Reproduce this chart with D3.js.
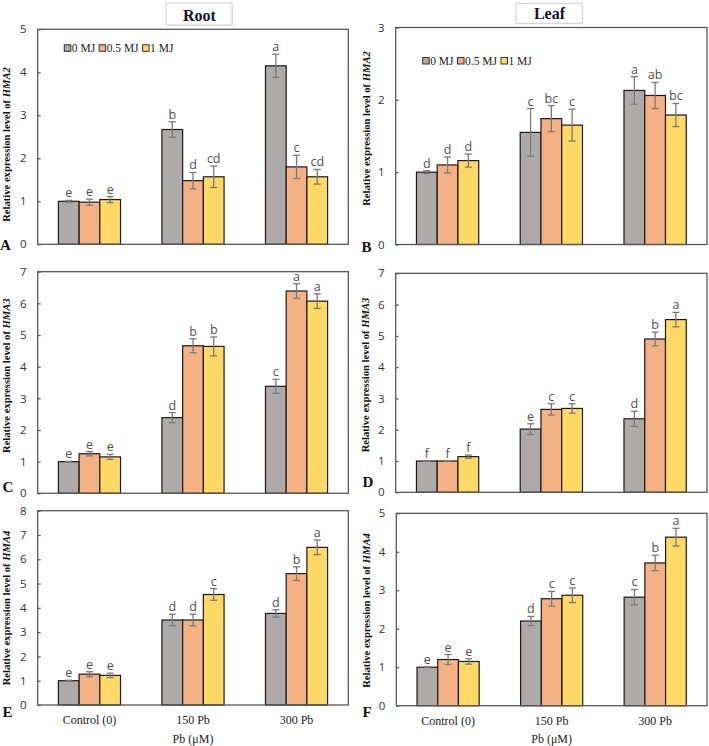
<!DOCTYPE html>
<html><head><meta charset="utf-8">
<script src="https://cdn.jsdelivr.net/npm/d3@7"></script>
<style>
html,body{margin:0;padding:0;background:#fff;}
svg{display:block;}
</style></head>
<body>
<svg id="chart" width="709" height="746"></svg>
<script>
// ---------- data ----------
const groups = ["Control (0)", "150 Pb", "300 Pb"];
const seriesNames = ["0 MJ", "0.5 MJ", "1 MJ"];

// rows = groups, columns = series (0 MJ, 0.5 MJ, 1 MJ)
const rootHMA2    = [[1.00, 0.98, 1.04], [2.67, 1.48, 1.57], [4.15, 1.80, 1.57]];
const rootHMA2Err = [[0.02, 0.07, 0.07], [0.18, 0.19, 0.25], [0.27, 0.27, 0.17]];
const rootHMA2Sig = [["e","e","e"], ["b","d","cd"], ["a","c","cd"]];

const leafHMA2    = [[1.00, 1.10, 1.16], [1.55, 1.74, 1.65], [2.13, 2.06, 1.79]];
const leafHMA2Err = [[0.02, 0.11, 0.09], [0.33, 0.18, 0.22], [0.19, 0.18, 0.16]];
const leafHMA2Sig = [["d","d","d"], ["c","bc","c"], ["a","ab","bc"]];

const rootHMA3    = [[1.00, 1.25, 1.15], [2.39, 4.66, 4.64], [3.38, 6.39, 6.07]];
const rootHMA3Err = [[0.01, 0.07, 0.08], [0.16, 0.22, 0.30], [0.22, 0.23, 0.23]];
const rootHMA3Sig = [["e","e","e"], ["d","b","b"], ["c","a","a"]];

const leafHMA3    = [[1.00, 1.00, 1.14], [2.02, 2.65, 2.68], [2.35, 4.90, 5.52]];
const leafHMA3Err = [[0.01, 0.01, 0.05], [0.17, 0.18, 0.15], [0.24, 0.22, 0.23]];
const leafHMA3Sig = [["f","f","f"], ["e","c","c"], ["d","b","a"]];

const rootHMA4    = [[1.00, 1.27, 1.22], [3.50, 3.50, 4.55], [3.77, 5.41, 6.49]];
const rootHMA4Err = [[0.02, 0.10, 0.09], [0.24, 0.24, 0.24], [0.15, 0.28, 0.30]];
const rootHMA4Sig = [["e","e","e"], ["d","d","c"], ["d","b","a"]];

const leafHMA4    = [[1.00, 1.20, 1.15], [2.20, 2.78, 2.87], [2.82, 3.71, 4.38]];
const leafHMA4Err = [[0.01, 0.13, 0.07], [0.12, 0.19, 0.19], [0.20, 0.20, 0.23]];
const leafHMA4Sig = [["e","e","e"], ["d","c","c"], ["c","b","a"]];

const yMaxes = [5, 3, 7, 7, 8, 5];
const genes = ["HMA2", "HMA2", "HMA3", "HMA3", "HMA4", "HMA4"];
const panelLetters = ["A", "B", "C", "D", "E", "F"];
const tissueTitles = ["Root", "Leaf"];
const xTitle = "Pb (\u03bcM)";
const yTitlePrefix = "Relative expression level of ";

// ---------- styles / layout ----------
const colors = ["#aeaaaa", "#f4b183", "#ffd966"];
const serif = "'Liberation Serif','Times New Roman',serif";
const sans = "'Open Sans','Noto Sans',sans-serif";

const panels = [
  {vals: rootHMA2, err: rootHMA2Err, sig: rootHMA2Sig, x0: 37.7, x1: 348.3, y0: 29.3, y1: 244.3,
   yt: [10, 144.5], lab: [0, 250], legend: [64.3, 48.3]},
  {vals: leafHMA2, err: leafHMA2Err, sig: leafHMA2Sig, x0: 395.7, x1: 707, y0: 27.5, y1: 244.5,
   yt: [369.5, 128.5], lab: [361.5, 251.5], legend: [422.7, 61]},
  {vals: rootHMA3, err: rootHMA3Err, sig: rootHMA3Sig, x0: 37.7, x1: 348.3, y0: 271.7, y1: 493.3,
   yt: [10, 375.7], lab: [2.5, 491.5]},
  {vals: leafHMA3, err: leafHMA3Err, sig: leafHMA3Sig, x0: 395.7, x1: 707, y0: 273.3, y1: 492.3,
   yt: [368.5, 375], lab: [362.5, 487]},
  {vals: rootHMA4, err: rootHMA4Err, sig: rootHMA4Sig, x0: 37.7, x1: 348.3, y0: 510.7, y1: 705,
   yt: [9.5, 608], lab: [2.5, 717], xlab: true},
  {vals: leafHMA4, err: leafHMA4Err, sig: leafHMA4Sig, x0: 396.3, x1: 707, y0: 513.3, y1: 705.7,
   yt: [369.5, 610.5], lab: [362.5, 716.5], xlab: true}
];

const svg = d3.select("#chart");

// titles
const titleBoxes = [{x: 166, y: 3, w: 66, h: 22, tx: 199.5, ty: 20.5},
                    {x: 516, y: 3.3, w: 66.3, h: 20, tx: 549.5, ty: 18.5}];
titleBoxes.forEach((b, i) => {
  svg.append("rect").attr("x", b.x + 1).attr("y", b.y + 1).attr("width", b.w).attr("height", b.h)
    .attr("fill", "#e6e6e6");
  svg.append("rect").attr("x", b.x).attr("y", b.y).attr("width", b.w).attr("height", b.h)
    .attr("fill", "#fff").attr("stroke", "#cfcfcf").attr("stroke-width", 1);
  svg.append("text").attr("x", b.tx).attr("y", b.ty).attr("text-anchor", "middle")
    .attr("font-family", serif).attr("font-weight", "bold").attr("font-size", 16)
    .attr("fill", "#141428").text(tissueTitles[i]);
});

panels.forEach((p, pi) => {
  const g = svg.append("g");
  const x = d3.scaleBand().domain(groups).range([p.x0, p.x1]).paddingInner(0.4).paddingOuter(0.2);
  const xs = d3.scaleBand().domain(seriesNames).range([0, x.bandwidth()]);
  const y = d3.scaleLinear().domain([0, yMaxes[pi]]).range([p.y1, p.y0]);

  // y axis
  const ya = g.append("g").attr("transform", `translate(${p.x0},0)`)
    .call(d3.axisLeft(y).ticks(yMaxes[pi]).tickSize(-3).tickPadding(11).tickFormat(d3.format("d")));
  ya.select(".domain").remove();
  ya.selectAll("line").attr("stroke", "#595959").attr("stroke-width", 1.2);
  ya.selectAll("text").attr("font-family", sans).attr("font-size", 11.5).attr("fill", "#333");

  // bars
  groups.forEach((grp, gi) => {
    seriesNames.forEach((s, si) => {
      const v = p.vals[gi][si], e = p.err[gi][si];
      const bx = x(grp) + xs(s);
      const cx = bx + xs.bandwidth() / 2;
      g.append("rect").attr("x", bx).attr("y", y(v)).attr("width", xs.bandwidth())
        .attr("height", y(0) - y(v)).attr("fill", colors[si])
        .attr("stroke", "#1a1a1a").attr("stroke-width", 1.2);
      const eg = g.append("g").attr("stroke", "#7a7a7a").attr("stroke-width", 1.3);
      eg.append("line").attr("x1", cx).attr("x2", cx).attr("y1", y(v + e)).attr("y2", y(v - e));
      eg.append("line").attr("x1", cx - 3.5).attr("x2", cx + 3.5).attr("y1", y(v + e)).attr("y2", y(v + e));
      eg.append("line").attr("x1", cx - 3.5).attr("x2", cx + 3.5).attr("y1", y(v - e)).attr("y2", y(v - e));
      g.append("text").attr("x", cx).attr("y", y(v + e) - 3).attr("text-anchor", "middle")
        .attr("font-family", sans).attr("font-size", 12.5).attr("fill", "#505050")
        .text(p.sig[gi][si]);
    });
  });

  // frame
  g.append("rect").attr("x", p.x0).attr("y", p.y0).attr("width", p.x1 - p.x0).attr("height", p.y1 - p.y0)
    .attr("fill", "none").attr("stroke", "#595959").attr("stroke-width", 1.3);

  // x axis labels
  if (p.xlab) {
    const xa = g.append("g").attr("transform", `translate(0,${p.y1})`)
      .call(d3.axisBottom(x).tickSize(0).tickPadding(10.5));
    xa.select(".domain").remove();
    xa.selectAll("text").attr("font-family", serif).attr("font-size", 12).attr("fill", "#222");
    g.append("text").attr("x", (p.x0 + p.x1) / 2).attr("y", p.y1 + 37.5).attr("text-anchor", "middle")
      .attr("font-family", serif).attr("font-size", 12).attr("fill", "#222").text(xTitle);
  }

  // y title
  const yt = g.append("text").attr("transform", `translate(${p.yt[0]},${p.yt[1]}) rotate(-90)`)
    .attr("text-anchor", "middle").attr("font-family", serif).attr("font-weight", "bold")
    .attr("font-size", 10.6).attr("fill", "#111");
  yt.append("tspan").text(yTitlePrefix);
  yt.append("tspan").attr("font-style", "italic").text(genes[pi]);

  // panel letter
  g.append("text").attr("x", p.lab[0]).attr("y", p.lab[1]).attr("font-family", serif)
    .attr("font-weight", "bold").attr("font-size", 15).attr("fill", "#111").text(panelLetters[pi]);

  // legend
  if (p.legend) {
    let lx = p.legend[0];
    const ly = p.legend[1];
    seriesNames.forEach((s, si) => {
      g.append("rect").attr("x", lx).attr("y", ly - 3.5).attr("width", 6.5).attr("height", 6.5)
        .attr("fill", colors[si]).attr("stroke", "#333").attr("stroke-width", 1);
      const t = g.append("text").attr("x", lx + 7.5).attr("y", ly + 4).attr("font-family", serif)
        .attr("font-size", 11.5).attr("fill", "#222").text(s);
      lx += 7.5 + t.node().getComputedTextLength() + 4;
    });
  }
});
</script>
</body></html>
